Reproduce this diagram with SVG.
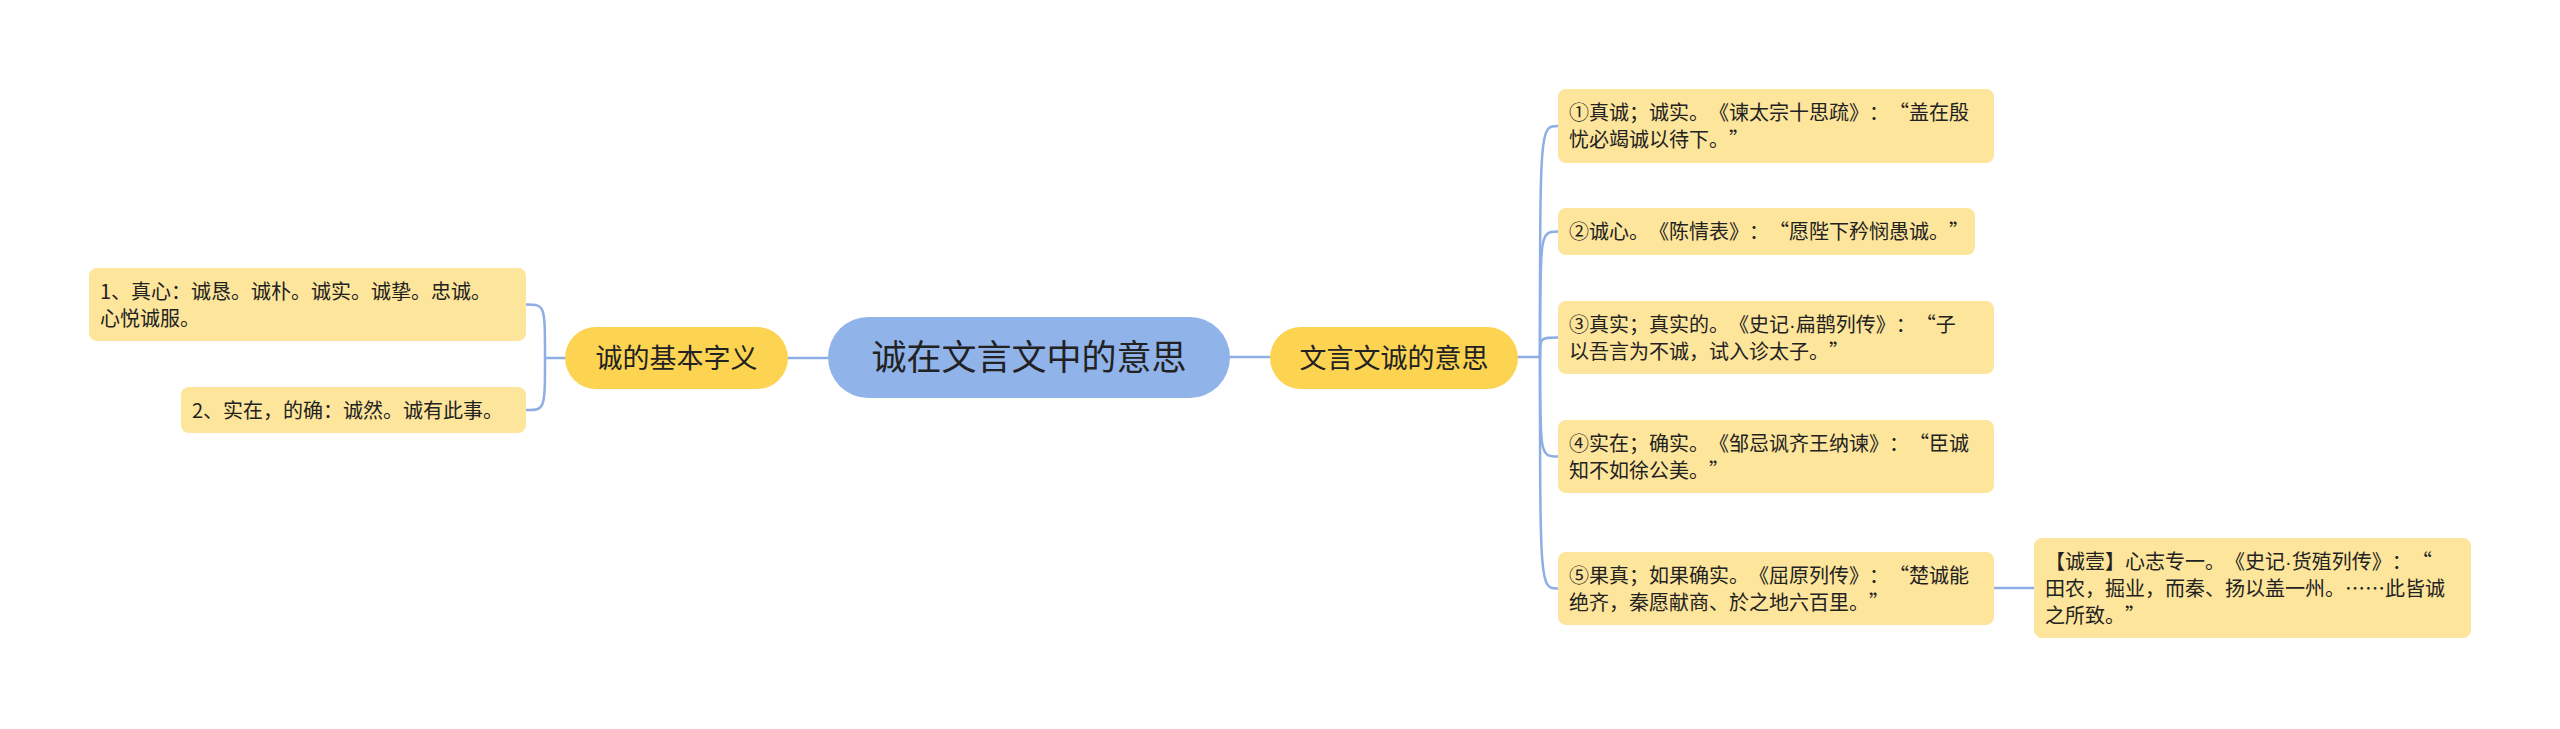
<svg xmlns="http://www.w3.org/2000/svg" width="2560" height="729" viewBox="0 0 2560 729">
<style>
text{font-family:"Noto Sans CJK SC","Noto Sans",sans-serif;fill:#222;text-spacing-trim:space-all;}
.leaf rect{fill:#fde59b;}
.main rect{fill:#fdd352;}
.root rect{fill:#90b3ea;}
.lt{font-size:20px;}
.mt{font-size:27px;text-anchor:middle;}
.rt{font-size:35px;text-anchor:middle;}
.fw{font-feature-settings:"fwid";}
.pw{font-family:"Liberation Sans",sans-serif;}
.conn path{fill:none;stroke:#8eaee6;stroke-width:2.5;stroke-linecap:round;}
</style>
<rect width="2560" height="729" fill="#ffffff"/>
<g class="conn" id="connectors">
<path d="M787,358 L828,358"/>
<path d="M1230,357 L1270,357"/>
<path d="M565,358 L545,358"/>
<path d="M545,358 C545,304.5 545,304.5 526,304.5"/>
<path d="M545,358 C545,410 545,410 526,410"/>
<path d="M1518,357 L1540,357"/>
<path d="M1540,357 C1540,126 1540,126 1558,126"/>
<path d="M1540,357 C1540,231.5 1540,231.5 1558,231.5"/>
<path d="M1540,357 C1540,337.5 1540,337.5 1558,337.5"/>
<path d="M1540,357 C1540,456.5 1540,456.5 1558,456.5"/>
<path d="M1540,357 C1540,588.5 1540,588.5 1558,588.5"/>
<path d="M1994,588 L2034,588"/>
</g>
<g id="root" class="root">
<rect x="828" y="317" width="402" height="81" rx="40.5"/>
<text class="rt" x="1029" y="370">诚在文言文中的意思</text>
</g>
<g id="basic" class="main">
<rect x="565" y="327" width="223" height="62" rx="31"/>
<text class="mt" x="676.5" y="368">诚的基本字义</text>
</g>
<g id="classical" class="main">
<rect x="1270" y="327" width="248" height="62" rx="31"/>
<text class="mt" x="1394" y="368">文言文诚的意思</text>
</g>
<g id="b1" class="leaf">
<rect x="89" y="268" width="437" height="73" rx="8"/>
<text class="lt" x="100" y="299">1、真心：诚恳。诚朴。诚实。诚挚。忠诚。</text>
<text class="lt" x="100" y="326">心悦诚服。</text>
</g>
<g id="b2" class="leaf">
<rect x="181" y="387" width="345" height="46" rx="8"/>
<text class="lt" x="192" y="417.5">2、实在，的确：诚然。诚有此事。</text>
</g>
<g id="c1" class="leaf">
<rect x="1558" y="89" width="436" height="74" rx="8"/>
<text class="lt" x="1569" y="120">①真诚；诚实。《谏太宗十思疏》：<tspan class="fw">“</tspan>盖在殷</text>
<text class="lt" x="1569" y="147">忧必竭诚以待下。<tspan class="fw">”</tspan></text>
</g>
<g id="c2" class="leaf">
<rect x="1558" y="208" width="417" height="47" rx="8"/>
<text class="lt" x="1569" y="239">②诚心。《陈情表》：<tspan class="fw">“</tspan>愿陛下矜悯愚诚。<tspan class="fw">”</tspan></text>
</g>
<g id="c3" class="leaf">
<rect x="1558" y="301" width="436" height="73" rx="8"/>
<text class="lt" x="1569" y="331.5">③真实；真实的。《史记<tspan class="pw">·</tspan>扁鹊列传》：<tspan class="fw">“</tspan>子</text>
<text class="lt" x="1569" y="358.5">以吾言为不诚，试入诊太子。<tspan class="fw">”</tspan></text>
</g>
<g id="c4" class="leaf">
<rect x="1558" y="420" width="436" height="73" rx="8"/>
<text class="lt" x="1569" y="450.5">④实在；确实。《邹忌讽齐王纳谏》：<tspan class="fw">“</tspan>臣诚</text>
<text class="lt" x="1569" y="477.5">知不如徐公美。<tspan class="fw">”</tspan></text>
</g>
<g id="c5" class="leaf">
<rect x="1558" y="552" width="436" height="73" rx="8"/>
<text class="lt" x="1569" y="582.5">⑤果真；如果确实。《屈原列传》：<tspan class="fw">“</tspan>楚诚能</text>
<text class="lt" x="1569" y="609.5">绝齐，秦愿献商、於之地六百里。<tspan class="fw">”</tspan></text>
</g>
<g id="d1" class="leaf">
<rect x="2034" y="538" width="437" height="100" rx="8"/>
<text class="lt" x="2045" y="569">【诚壹】心志专一。《史记<tspan class="pw">·</tspan>货殖列传》：<tspan class="fw">“</tspan></text>
<text class="lt" x="2045" y="596">田农，掘业，而秦、扬以盖一州。……此皆诚</text>
<text class="lt" x="2045" y="623">之所致。<tspan class="fw">”</tspan></text>
</g>
</svg>
